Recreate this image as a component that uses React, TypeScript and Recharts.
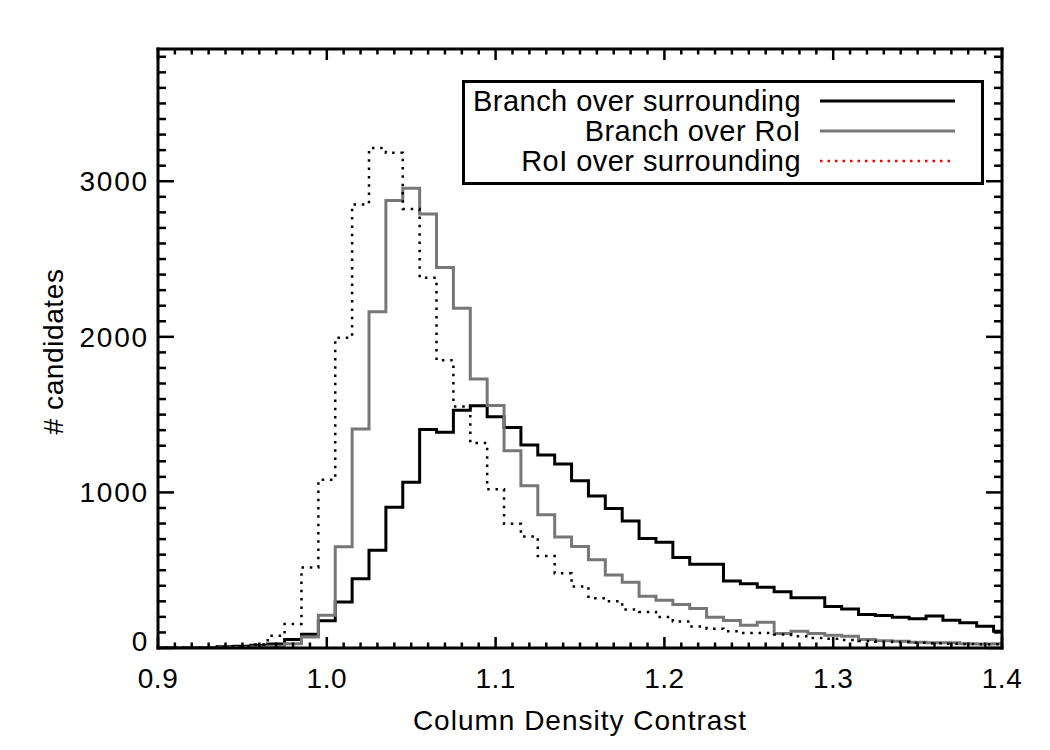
import React from 'react';
import { LineChart, Line, XAxis, YAxis, Label } from 'recharts';

const xCenters = [
  0.90, 0.91, 0.92, 0.93, 0.94, 0.95, 0.96, 0.97, 0.98, 0.99,
  1.00, 1.01, 1.02, 1.03, 1.04, 1.05, 1.06, 1.07, 1.08, 1.09,
  1.10, 1.11, 1.12, 1.13, 1.14, 1.15, 1.16, 1.17, 1.18, 1.19,
  1.20, 1.21, 1.22, 1.23, 1.24, 1.25, 1.26, 1.27, 1.28, 1.29,
  1.30, 1.31, 1.32, 1.33, 1.34, 1.35, 1.36, 1.37, 1.38, 1.39,
  1.40,
];

const branchOverSurrounding = [
  0, 0, 2, 4, 8, 12, 18, 25, 55, 88,
  175, 295, 445, 628, 905, 1065, 1405, 1386, 1528, 1557,
  1487, 1418, 1304, 1240, 1182, 1075, 977, 896, 816, 704,
  679, 581, 538, 538, 430, 413, 391, 361, 323, 323,
  266, 251, 216, 209, 198, 188, 205, 179, 163, 140,
  108,
];

const branchOverRoI = [
  0, 0, 0, 1, 2, 4, 7, 12, 28, 70,
  210, 650, 1408, 2161, 2877, 2955, 2790, 2445, 2183, 1729,
  1558, 1268, 1043, 857, 713, 653, 567, 470, 423, 333,
  307, 280, 254, 198, 177, 147, 166, 93, 108, 93,
  82, 76, 55, 46, 44, 37, 33, 33, 28, 26,
  27,
];

const roiOverSurrounding = [
  0, 1, 2, 4, 8, 12, 22, 78, 155, 518,
  1082, 1994, 2851, 3213, 3183, 2822, 2380, 1849, 1553, 1318,
  1020, 798, 717, 591, 480, 395, 320, 301, 248, 232,
  200, 170, 138, 124, 107, 97, 97, 86, 75, 64,
  59, 52, 45, 40, 38, 33, 31, 28, 26, 24,
  24,
];

const xMajorTicks = [0.9, 1.0, 1.1, 1.2, 1.3, 1.4];
const xTickLabels = ['0.9', '1.0', '1.1', '1.2', '1.3', '1.4'];
const yMajorTicks = [0, 1000, 2000, 3000];
const yTickLabels = ['0', '1000', '2000', '3000'];

const legendNames = ['Branch over surrounding', 'Branch over RoI', 'RoI over surrounding'];
const legendColors = ['#000000', '#777777', '#ff0000'];
const legendDash = ['', '', '2.5 5'];

const xTitle = 'Column Density Contrast';
const yTitle = '# candidates';

const FONT = '"Liberation Sans", Arial, Helvetica, sans-serif';

const data = xCenters.map((x, i) => ({
  x,
  bs: branchOverSurrounding[i],
  br: branchOverRoI[i],
  rs: roiOverSurrounding[i],
}));

const xAllTicks = Array.from({ length: 51 }, (_, i) => Math.round((0.9 + i * 0.01) * 100) / 100);
const yAllTicks = Array.from({ length: 39 }, (_, i) => i * 100);

const findIdx = (arr: number[], v: number) => arr.findIndex((t) => Math.abs(t - v) < 1e-6);

const BottomTick = (props: any) => {
  const { x, y, payload } = props;
  const idx = findIdx(xMajorTicks, payload.value);
  const len = idx >= 0 ? 11 : 5.5;
  return (
    <g>
      <line x1={x} x2={x} y1={y} y2={y - len} stroke="#000" strokeWidth={2.5} />
      {idx >= 0 && (
        <text x={x} y={y + 40} textAnchor="middle" fontSize={28} fill="#000" fontFamily={FONT} letterSpacing={0.5}>
          {xTickLabels[idx]}
        </text>
      )}
    </g>
  );
};

const TopTick = (props: any) => {
  const { x, y, payload } = props;
  const idx = findIdx(xMajorTicks, payload.value);
  const len = idx >= 0 ? 11 : 5.5;
  return <line x1={x} x2={x} y1={y} y2={y + len} stroke="#000" strokeWidth={2.5} />;
};

const LeftTick = (props: any) => {
  const { x, y, payload } = props;
  const idx = findIdx(yMajorTicks, payload.value);
  const len = idx >= 0 ? 16 : 8;
  const ly = payload.value === 0 ? y - 7 : y;
  return (
    <g>
      <line x1={x} x2={x + len} y1={y} y2={y} stroke="#000" strokeWidth={2.5} />
      {idx >= 0 && (
        <text x={x - 9} y={ly + 10} textAnchor="end" fontSize={28} fill="#000" fontFamily={FONT} letterSpacing={1.8}>
          {yTickLabels[idx]}
        </text>
      )}
    </g>
  );
};

const RightTick = (props: any) => {
  const { x, y, payload } = props;
  const idx = findIdx(yMajorTicks, payload.value);
  const len = idx >= 0 ? 16 : 8;
  return <line x1={x} x2={x - len} y1={y} y2={y} stroke="#000" strokeWidth={2.5} />;
};

const axisLineStyle = { stroke: '#000', strokeWidth: 3, strokeLinecap: 'square' as const };

export default function App() {
  return (
    <div style={{ position: 'relative', width: 1034, height: 734, background: '#fff' }}>
      <LineChart width={1034} height={734} data={data} margin={{ top: 40, right: 39, left: 0, bottom: 0 }}>
        <XAxis
          xAxisId="bottom"
          dataKey="x"
          type="number"
          domain={[0.9, 1.4]}
          allowDataOverflow
          ticks={xAllTicks}
          interval={0}
          tickSize={0}
          tickMargin={0}
          tickLine={false}
          tick={BottomTick}
          axisLine={axisLineStyle}
          height={94}
        >
          <Label
            content={(p: any) => {
              const vb = p.viewBox || {};
              return (
                <text
                  x={vb.x + vb.width / 2}
                  y={vb.y + 82}
                  textAnchor="middle"
                  fontSize={28}
                  fill="#000"
                  fontFamily={FONT}
                  letterSpacing={1}
                >
                  {xTitle}
                </text>
              );
            }}
          />
        </XAxis>
        <XAxis
          xAxisId="top"
          orientation="top"
          dataKey="x"
          type="number"
          domain={[0.9, 1.4]}
          allowDataOverflow
          ticks={xAllTicks}
          interval={0}
          tickSize={0}
          tickMargin={0}
          tickLine={false}
          tick={TopTick}
          axisLine={axisLineStyle}
          height={1}
        />
        <YAxis
          yAxisId="left"
          type="number"
          domain={[0, 3850]}
          allowDataOverflow
          ticks={yAllTicks}
          interval={0}
          tickSize={0}
          tickMargin={0}
          tickLine={false}
          tick={LeftTick}
          axisLine={axisLineStyle}
          width={150}
        >
          <Label
            content={(p: any) => {
              const vb = p.viewBox || {};
              const cy = vb.y + vb.height / 2 + 3;
              return (
                <text
                  transform={`translate(55, ${cy}) rotate(-90)`}
                  x={0}
                  y={0}
                  textAnchor="middle"
                  fontSize={28}
                  fill="#000"
                  fontFamily={FONT}
                  letterSpacing={0.6}
                >
                  {yTitle}
                </text>
              );
            }}
          />
        </YAxis>
        <YAxis
          yAxisId="right"
          orientation="right"
          type="number"
          domain={[0, 3850]}
          allowDataOverflow
          ticks={yAllTicks}
          interval={0}
          tickSize={0}
          tickMargin={0}
          tickLine={false}
          tick={RightTick}
          axisLine={axisLineStyle}
          width={1}
        />
        <Line
          xAxisId="bottom"
          yAxisId="left"
          type="step"
          dataKey="bs"
          name={legendNames[0]}
          stroke="#000000"
          strokeWidth={3}
          dot={false}
          activeDot={false}
          isAnimationActive={false}
        />
        <Line
          xAxisId="bottom"
          yAxisId="left"
          type="step"
          dataKey="br"
          name={legendNames[1]}
          stroke="#777777"
          strokeWidth={3}
          dot={false}
          activeDot={false}
          isAnimationActive={false}
        />
        <Line
          xAxisId="bottom"
          yAxisId="left"
          type="step"
          dataKey="rs"
          name={legendNames[2]}
          stroke="#000000"
          strokeWidth={2.5}
          strokeDasharray="2.5 5.8"
          dot={false}
          activeDot={false}
          isAnimationActive={false}
        />
      </LineChart>
      <div
        style={{
          position: 'absolute',
          left: 454,
          top: 72,
          width: 522,
          height: 105,
          border: '3px solid #000',
          boxSizing: 'border-box',
          background: '#fff',
        }}
      >
        <svg width={516} height={99} style={{ display: 'block' }}>
          {legendNames.map((name, i) => (
            <g key={name}>
              <text
                x={336}
                y={28 + i * 30}
                textAnchor="end"
                fontSize={29}
                fill="#000"
                fontFamily={FONT}
                letterSpacing={0.45}
              >
                {name}
              </text>
              <line
                x1={355}
                x2={490}
                y1={18 + i * 30}
                y2={18 + i * 30}
                stroke={legendColors[i]}
                strokeWidth={i === 2 ? 2.5 : 3}
                strokeDasharray={legendDash[i] || undefined}
              />
            </g>
          ))}
        </svg>
      </div>
    </div>
  );
}
